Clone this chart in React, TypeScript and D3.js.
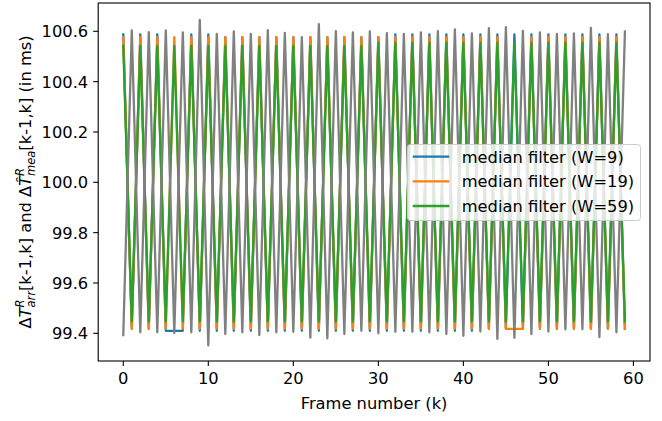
import React from "react";
import * as d3 from "d3";

const frames: number[] = d3.range(60);

const arrival: number[] = [
  99.393, 100.604, 99.404, 100.597, 99.404, 100.604, 99.401, 100.596, 99.404, 100.645,
  99.352, 100.590, 99.397, 100.600, 99.404, 100.590, 99.393, 100.605, 99.404, 100.594,
  99.406, 100.577, 99.383, 100.628, 99.380, 100.601, 99.397, 100.596, 99.410, 100.600,
  99.400, 100.593, 99.406, 100.590, 99.406, 100.596, 99.404, 100.601, 99.397, 100.608,
  99.390, 100.592, 99.407, 100.613, 99.378, 100.617, 99.382, 100.602, 99.397, 100.596,
  99.407, 100.590, 99.416, 100.592, 99.416, 100.614, 99.385, 100.589, 99.404, 100.600,
];

const medianW9: number[] = [
  100.588, 99.418, 100.588, 99.418, 100.588, 99.410, 99.410, 99.410, 100.588, 99.410,
  100.588, 99.410, 100.577, 99.410, 100.577, 99.410, 100.577, 99.410, 100.577, 99.410,
  100.577, 99.410, 100.577, 99.410, 100.577, 99.410, 100.577, 99.410, 100.577, 99.410,
  100.577, 99.410, 100.588, 99.410, 100.588, 99.410, 100.588, 99.410, 100.588, 99.410,
  100.588, 99.410, 100.588, 99.418, 100.588, 99.418, 100.588, 99.418, 100.588, 99.418,
  100.588, 99.418, 100.588, 99.418, 100.588, 99.418, 100.588, 99.418, 100.588, 99.418,
];

const medianW19: number[] = [
  100.577, 99.418, 100.577, 99.418, 100.577, 99.418, 100.577, 99.418, 100.577, 99.418,
  100.577, 99.418, 100.577, 99.418, 100.577, 99.418, 100.577, 99.418, 100.577, 99.418,
  100.577, 99.418, 100.577, 99.418, 100.577, 99.418, 100.577, 99.418, 100.577, 99.418,
  100.577, 99.418, 100.577, 99.418, 100.577, 99.418, 100.577, 99.418, 100.577, 99.418,
  100.577, 99.418, 100.577, 99.418, 100.577, 99.418, 99.418, 99.418, 100.577, 99.418,
  100.577, 99.418, 100.577, 99.418, 100.577, 99.418, 100.577, 99.418, 100.577, 99.418,
];

const medianW59: number[] = [
  100.542, 99.447, 100.542, 99.447, 100.542, 99.447, 100.542, 99.447, 100.542, 99.447,
  100.542, 99.447, 100.542, 99.447, 100.542, 99.447, 100.542, 99.447, 100.542, 99.447,
  100.542, 99.447, 100.542, 99.447, 100.542, 99.447, 100.542, 99.447, 100.542, 99.447,
  100.555, 99.447, 100.555, 99.447, 100.555, 99.447, 100.555, 99.447, 100.555, 99.447,
  100.555, 99.447, 100.555, 99.447, 100.555, 99.447, 100.555, 99.447, 100.555, 99.447,
  100.555, 99.447, 100.555, 99.447, 100.555, 99.447, 100.555, 99.447, 100.555, 99.447,
];

const xTicks: number[] = [0, 10, 20, 30, 40, 50, 60];
const yTicks: number[] = [99.4, 99.6, 99.8, 100.0, 100.2, 100.4, 100.6];

const seriesNames: string[] = ["median filter (W=9)", "median filter (W=19)", "median filter (W=59)"];
const seriesColors: string[] = ["#1f77b4", "#ff7f0e", "#2ca02c"];
const arrivalColor = "#808080";

const W = 662;
const H = 421;
const left = 98.2;
const right = 650;
const top = 3;
const bottom = 361;
const FONT = "DejaVu Sans, sans-serif";
const FS = 16.3;
const LW = 2.3;

export default function App() {
  const x = d3.scaleLinear().domain([-2.95, 61.95]).range([left, right]);
  const y = d3.scaleLinear().domain([99.29, 100.7125]).range([bottom, top]);
  const line = d3
    .line<[number, number]>()
    .x((d) => x(d[0]))
    .y((d) => y(d[1]));

  const filtered = [medianW9, medianW19, medianW59];
  const mk = (vals: number[]) => line(frames.map((k, i) => [k, vals[i]] as [number, number])) || "";

  const legX = 407.5;
  const legY = 144.5;
  const legRows = [156.7, 181.4, 206];

  return (
    <svg width={W} height={H} style={{ position: "absolute", left: 0, top: 0, background: "#fff" }} fontFamily={FONT}>
      <rect x={0} y={0} width={W} height={H} fill="#fff" />
      <g fill="none" strokeLinejoin="round" strokeLinecap="square">
        {filtered.map((vals, i) => (
          <path key={i} d={mk(vals)} stroke={seriesColors[i]} strokeWidth={LW} />
        ))}
        <path d={mk(arrival)} stroke={arrivalColor} strokeWidth={LW} />
      </g>
      {/* spines */}
      <rect x={left} y={top} width={right - left} height={bottom - top} fill="none" stroke="#000" strokeWidth={1.1} />
      {/* x ticks */}
      {xTicks.map((t) => (
        <g key={"x" + t}>
          <line x1={x(t)} x2={x(t)} y1={bottom} y2={bottom + 5} stroke="#000" strokeWidth={1.1} />
          <text x={x(t)} y={bottom + 23} fontSize={FS} textAnchor="middle" fill="#000">
            {t}
          </text>
        </g>
      ))}
      {/* y ticks */}
      {yTicks.map((t) => (
        <g key={"y" + t}>
          <line x1={left - 5} x2={left} y1={y(t)} y2={y(t)} stroke="#000" strokeWidth={1.1} />
          <text x={left - 10} y={y(t) + 6} fontSize={FS} textAnchor="end" fill="#000">
            {t.toFixed(1)}
          </text>
        </g>
      ))}
      <text x={(left + right) / 2} y={409} fontSize={FS} textAnchor="middle" fill="#000">
        Frame number (k)
      </text>
      <text transform={`translate(31,${(top + bottom) / 2}) rotate(-90)`} fontSize={FS} textAnchor="middle" fill="#000">
        <tspan>Δ</tspan>
        <tspan fontStyle="italic">T</tspan>
        <tspan fontStyle="italic" fontSize={11.5} dy={-7.5}>R</tspan>
        <tspan fontStyle="italic" fontSize={11.5} dx={-8} dy={11.5}>arr</tspan>
        <tspan dy={-4}>[k-1,k] and Δ</tspan>
        <tspan fontStyle="italic">{"T\u0302"}</tspan>
        <tspan fontStyle="italic" fontSize={11.5} dy={-7.5}>R</tspan>
        <tspan fontStyle="italic" fontSize={11.5} dx={-8} dy={11.5}>mea</tspan>
        <tspan dy={-4}>[k-1,k] (in ms)</tspan>
      </text>
      {/* legend */}
      <rect x={legX} y={legY} width={233} height={76} rx={3} fill="#fff" fillOpacity={0.8} stroke="#cccccc" strokeWidth={1} />
      {seriesNames.map((name, i) => (
        <g key={name}>
          <line x1={412.7} x2={449.3} y1={legRows[i]} y2={legRows[i]} stroke={seriesColors[i]} strokeWidth={LW} />
          <text x={461.7} y={legRows[i] + 6} fontSize={FS} fill="#000">
            {name}
          </text>
        </g>
      ))}
    </svg>
  );
}
